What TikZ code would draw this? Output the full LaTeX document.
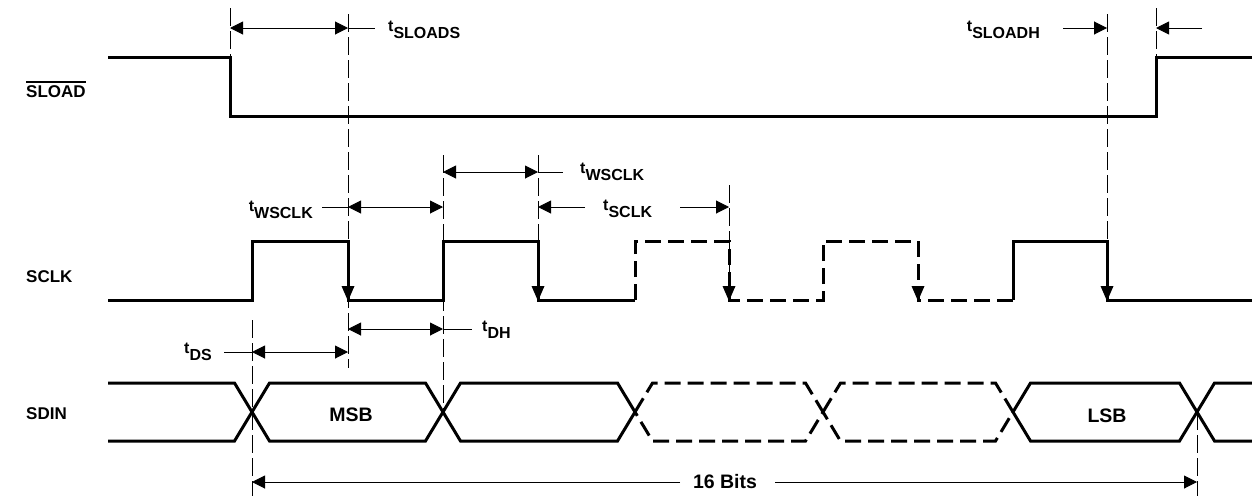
\documentclass[tikz,border=0pt]{standalone}
\usepackage{fontspec}
\setmainfont{Liberation Sans}
\usetikzlibrary{arrows.meta}
\newcommand{\tsb}[1]{{\fontsize{16pt}{16pt}\selectfont t\raisebox{-7pt}{#1}}}
\begin{document}
\begin{tikzpicture}[x=1pt,y=-1pt,
  sig/.style={line width=3pt, line join=miter, line cap=butt},
  sigdash/.style={sig, dash pattern=on 16pt off 7pt},
  ext/.style={line width=1pt, dash pattern=on 18pt off 5pt},
  dim/.style={line width=1pt},
  tip/.style={dim,-{Triangle[length=13pt,width=13pt]}},
  both/.style={dim,{Triangle[length=13pt,width=13pt]}-{Triangle[length=13pt,width=13pt]}},
  lbl/.style={font=\bfseries\fontsize{19.5pt}{20pt}\selectfont, inner sep=0pt},
  tlbl/.style={font=\bfseries, inner sep=0pt},
  siglbl/.style={font=\bfseries\fontsize{17pt}{18pt}\selectfont, inner sep=0pt, anchor=base west}
]
\useasboundingbox (0,0) rectangle (1252,496);

% ---------- signal labels ----------
\node[siglbl] (lsload) at (26,97) {SLOAD};
\draw[line width=1.5pt] ([yshift=3pt]lsload.north west) -- ([yshift=3pt]lsload.north east);
\node[siglbl] (lsclk) at (26,282) {SCLK};
\node[siglbl] (lsdin) at (26,419) {SDIN};

% ---------- SLOAD ----------
\draw[sig] (108,57) -- (230,57) -- (230,116) -- (1156,116) -- (1156,57) -- (1252,57);

% ---------- SCLK ----------
\draw[sig] (108,300) -| (252,241) -| (348,300) -| (443,241) -| (538,300) -- (635,300);
\draw[sigdash] (635,300) -- (635,241) -| (729,300) -| (823,241) -| (918,300) -- (1013,300);
\draw[sig] (1013,300) -- (1013,241) -| (1107,300) -- (1252,300);
\foreach \x in {348,538,729,918,1107}
  \fill (\x-6.5,286) -- (\x+6.5,286) -- (\x,301) -- cycle;

% ---------- SDIN ----------
\draw[sig] (108,383) -- (234.5,383) -- (252,412) -- (234.5,441) -- (108,441);
\draw[sig] (1252,383) -- (1214.5,383) -- (1197,412) -- (1214.5,441) -- (1252,441);
\foreach \a/\b in {252/443, 443/635, 1013/1197}
  \draw[sig] (\a,412) -- (\a+17.5,383) -- (\b-17.5,383) -- (\b,412) -- (\b-17.5,441) -- (\a+17.5,441) -- cycle;
\foreach \a/\b in {635/823, 823/1013}
  \draw[sigdash] (\a,412) -- (\a+17.5,383) -- (\b-17.5,383) -- (\b,412) -- (\b-17.5,441) -- (\a+17.5,441) -- cycle;
\node[lbl, anchor=base] (msb) at (351,421.5) {MSB};
\node[lbl, anchor=base] (lsb) at (1107,422) {LSB};

% ---------- extension lines ----------
\draw[ext] (230,8) -- (230,57);
\draw[ext] (348,14) -- (348,368);
\draw[ext] (1107,14) -- (1107,300);
\draw[ext] (1156,8) -- (1156,57);
\draw[ext] (443,155) -- (443,412);
\draw[ext] (538,155) -- (538,300);
\draw[ext] (729,185) -- (729,300);
\draw[ext] (252,320) -- (252,496);
\draw[ext] (1197,412) -- (1197,496);

% ---------- coordinates ----------
\coordinate (sa) at (230,28);  \coordinate (sb) at (348,28);  \coordinate (sc) at (375,28);
\coordinate (ha) at (1063,28); \coordinate (hb) at (1107,28);
\coordinate (hc) at (1202,28); \coordinate (hd) at (1156,28);
\coordinate (wa) at (443,172); \coordinate (wb) at (538,172); \coordinate (wc) at (563,172);
\coordinate (va) at (322,207); \coordinate (vb) at (348,207); \coordinate (vc) at (443,207);
\coordinate (ka) at (585,207); \coordinate (kb) at (538,207);
\coordinate (kc) at (680,207); \coordinate (kd) at (729,207);
\coordinate (da) at (348,329); \coordinate (db) at (443,329); \coordinate (dc) at (472,329);
\coordinate (ea) at (224,352); \coordinate (eb) at (252,352); \coordinate (ec) at (348,352);
\coordinate (ba) at (680,482); \coordinate (bb) at (252,482);
\coordinate (bc) at (775,482); \coordinate (bd) at (1197,482);

% ---------- timing arrows ----------
\draw[both] (sa) -- (sb);
\draw[dim] (sb) -- (sc);
\node[tlbl, anchor=base west] (tsloads) at (388,31) {\tsb{SLOADS}};

\draw[tip] (ha) -- (hb);
\draw[tip] (hc) -- (hd);
\node[tlbl, anchor=base east] (tsloadh) at (1040,31) {\tsb{SLOADH}};

\draw[both] (wa) -- (wb);
\draw[dim] (wb) -- (wc);
\node[tlbl, anchor=base west] (twsclka) at (580,173) {\tsb{WSCLK}};

\draw[dim] (va) -- (vb);
\draw[both] (vb) -- (vc);
\node[tlbl, anchor=base east] (twsclkb) at (313,211) {\tsb{WSCLK}};

\draw[tip] (ka) -- (kb);
\draw[tip] (kc) -- (kd);
\node[tlbl, anchor=base west] (tsclk) at (603,210) {\tsb{SCLK}};

\draw[both] (da) -- (db);
\draw[dim] (db) -- (dc);
\node[tlbl, anchor=base west] (tdh) at (482,331) {\tsb{DH}};

\draw[dim] (ea) -- (eb);
\draw[both] (eb) -- (ec);
\node[tlbl, anchor=base east] (tds) at (212,353) {\tsb{DS}};

\draw[tip] (ba) -- (bb);
\draw[tip] (bc) -- (bd);
\node[lbl, anchor=base] (bits) at (725,488) {16 Bits};
\end{tikzpicture}
\end{document}
